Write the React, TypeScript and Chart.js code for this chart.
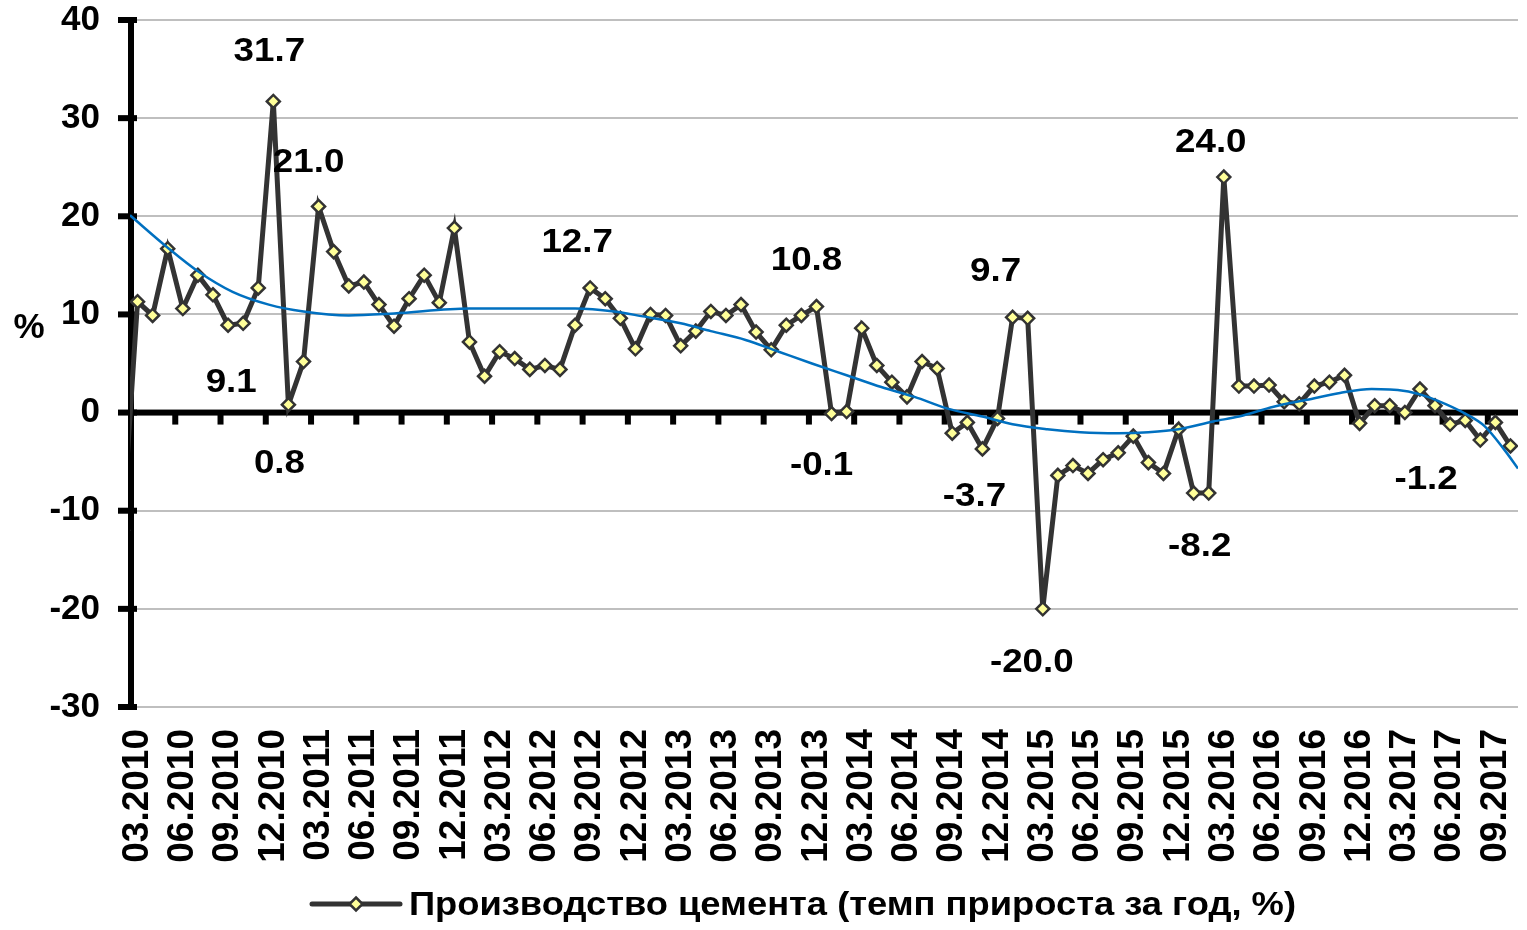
import React, { useEffect, useRef } from 'react';
import { Chart, registerables } from 'chart.js';

Chart.register(...registerables);

// Category tick labels (every third month, 03.2010 ... 09.2017)
const tickLabels = [
  '03.2010', '06.2010', '09.2010', '12.2010',
  '03.2011', '06.2011', '09.2011', '12.2011',
  '03.2012', '06.2012', '09.2012', '12.2012',
  '03.2013', '06.2013', '09.2013', '12.2013',
  '03.2014', '06.2014', '09.2014', '12.2014',
  '03.2015', '06.2015', '09.2015', '12.2015',
  '03.2016', '06.2016', '09.2016', '12.2016',
  '03.2017', '06.2017', '09.2017',
];

// Monthly values, 03.2010 (index 0) ... 10.2017 (index 91)
const cementValues = [
  11.3, 9.9, 16.7, 10.6, 14.0, 12.0, 8.9, 9.1, 12.7, 31.7,
  0.8, 5.2, 21.0, 16.4, 12.9, 13.3, 11.0, 8.8, 11.6, 14.0,
  11.2, 18.8, 7.2, 3.7, 6.2, 5.5, 4.4, 4.8, 4.4, 8.9,
  12.7, 11.6, 9.6, 6.5, 10.0, 9.9, 6.8, 8.3, 10.3, 9.9,
  11.0, 8.2, 6.4, 8.9, 9.9, 10.8, -0.1, 0.1, 8.6, 4.8,
  3.1, 1.6, 5.2, 4.5, -2.1, -1.0, -3.7, -0.6, 9.7, 9.6,
  -20.0, -6.4, -5.4, -6.2, -4.8, -4.1, -2.4, -5.1, -6.2, -1.7,
  -8.2, -8.2, 24.0, 2.7, 2.7, 2.8, 1.1, 0.9, 2.7, 3.1,
  3.8, -1.1, 0.7, 0.7, 0.0, 2.4, 0.7, -1.2, -0.8, -2.8,
  -1.0, -3.4,
];
// Value for 02.2010, lying just outside the visible axis range (clipped)
const priorValue = -12.0;

// Trend line (polynomial trend): month index -> value
const trendX = [-0.5, 2, 4, 6.3, 8.7, 11, 14, 17, 22, 29, 31.6, 33.5, 36, 38, 40.3, 42.5, 44.7, 47, 49.3, 51.5, 53.7, 56, 58, 60.3, 62.5, 65, 67, 69, 71.3, 73, 75.3, 77.5, 79.7, 81.8, 84, 85.1, 86.2, 88, 89.3, 90.6, 91.5];
const trendY = [20.1, 16.8, 14.4, 12.3, 11.0, 10.3, 9.9, 10.1, 10.6, 10.6, 10.3, 9.8, 9.1, 8.3, 7.4, 6.2, 5.0, 3.8, 2.6, 1.6, 0.4, -0.4, -1.2, -1.7, -2.0, -2.1, -2.0, -1.7, -0.9, -0.4, 0.6, 1.3, 2.0, 2.4, 2.2, 1.8, 1.2, -0.1, -1.4, -3.8, -5.7];

// Which points carry a data label
const labelIndex = [9, 12, 7, 10, 30, 45, 46, 58, 56, 60, 72, 71, 87];

const yTicks = [-30, -20, -10, 0, 10, 20, 30, 40];
const legendText = 'Производство цемента (темп прироста за год, %)';

// styling (label offsets in pixels relative to their point)
const labelOffsets: Record<number, [number, number]> = {
  9: [-4, -50], 12: [-10, -44], 7: [-12, 59], 10: [-9, 59], 30: [-13, -45],
  45: [-10, -46], 46: [-10, 52], 58: [-17, -46], 56: [-8, 48], 60: [-11, 54],
  72: [-13, -34], 71: [-9, 54], 87: [-24, 55],
};

const FONT = '"Liberation Sans", Arial, sans-serif';
const LINE_COLOR = '#333333';
const MARKER_FILL = '#FFFF99';
const TREND_COLOR = '#0070C0';

function drawDiamond(ctx: CanvasRenderingContext2D, x: number, y: number, r: number) {
  ctx.beginPath();
  ctx.moveTo(x, y - r);
  ctx.lineTo(x + r, y);
  ctx.lineTo(x, y + r);
  ctx.lineTo(x - r, y);
  ctx.closePath();
  ctx.fillStyle = MARKER_FILL;
  ctx.fill();
  ctx.lineWidth = 2.5;
  ctx.strokeStyle = LINE_COLOR;
  ctx.stroke();
}

// draw text horizontally stretched (the reference's glyphs are a bit wider)
function stretchedText(ctx: CanvasRenderingContext2D, text: string, x: number, y: number, sx: number) {
  ctx.save();
  ctx.translate(x, y);
  ctx.scale(sx, 1);
  ctx.fillText(text, 0, 0);
  ctx.restore();
}

const decorPlugin = {
  id: 'decor',
  beforeDatasetsDraw(chart: any) {
    const { ctx, chartArea, scales } = chart;
    const x = scales.x;
    const y = scales.y;
    ctx.save();
    ctx.fillStyle = '#000';
    const y0 = y.getPixelForValue(0);
    // x tick marks at category boundaries before each labelled month
    for (let k = 1; k < tickLabels.length; k++) {
      const px = x.getPixelForValue(k * 3 - 0.5);
      ctx.fillRect(px - 3, y0, 6, 12);
    }
    // zero line (horizontal axis)
    ctx.fillRect(chartArea.left, y0 - 3, chartArea.right - chartArea.left, 6);
    // vertical axis
    const ax = chartArea.left + 1;
    ctx.fillRect(ax - 3, chartArea.top - 3, 6, chartArea.bottom - chartArea.top + 3);
    for (const v of yTicks) {
      const py = y.getPixelForValue(v);
      ctx.fillRect(ax - 13, py - 3, 19, 6);
    }
    ctx.restore();
  },
  afterDatasetsDraw(chart: any) {
    const { ctx, scales } = chart;
    const x = scales.x;
    const y = scales.y;
    ctx.save();
    ctx.font = `bold 34px ${FONT}`;
    ctx.fillStyle = '#000';
    ctx.textAlign = 'center';
    ctx.textBaseline = 'middle';
    for (const i of labelIndex) {
      const v = cementValues[i];
      const [dx, dy] = labelOffsets[i];
      const px = x.getPixelForValue(i) + dx;
      const py = y.getPixelForValue(v) + dy;
      stretchedText(ctx, v.toFixed(1), px, py, 1.08);
    }
    ctx.restore();
  },
  afterDraw(chart: any) {
    const { ctx } = chart;
    ctx.save();
    // "%" axis title
    ctx.font = `bold 35px ${FONT}`;
    ctx.fillStyle = '#000';
    ctx.textAlign = 'center';
    ctx.textBaseline = 'middle';
    ctx.fillText('%', 29, 328);
    // legend
    const ly = 904;
    ctx.strokeStyle = LINE_COLOR;
    ctx.lineWidth = 5;
    ctx.lineCap = 'round';
    ctx.beginPath();
    ctx.moveTo(312, ly);
    ctx.lineTo(400, ly);
    ctx.stroke();
    drawDiamond(ctx, 356, ly, 6.5);
    ctx.font = `bold 33px ${FONT}`;
    ctx.fillStyle = '#000';
    ctx.textAlign = 'left';
    ctx.textBaseline = 'middle';
    const w = ctx.measureText(legendText).width;
    stretchedText(ctx, legendText, 409, ly + 2, 887 / w);
    ctx.restore();
  },
};

export default function App() {
  const canvasRef = useRef<HTMLCanvasElement | null>(null);

  useEffect(() => {
    document.body.style.margin = '0';
    const canvas = canvasRef.current;
    if (!canvas) return;

    const mainData = [{ x: -1, y: priorValue }].concat(
      cementValues.map((v, i) => ({ x: i, y: v }))
    );
    const trendData = trendX.map((xv, i) => ({ x: xv, y: trendY[i] }));
    const tickPositions = tickLabels.map((_, k) => k * 3);

    const chart = new Chart(canvas, {
      type: 'line',
      data: {
        datasets: [
          {
            label: 'trend',
            data: trendData,
            borderColor: TREND_COLOR,
            borderWidth: 2.5,
            pointRadius: 0,
            fill: false,
            cubicInterpolationMode: 'monotone',
          },
          {
            label: legendText,
            data: mainData,
            borderColor: LINE_COLOR,
            borderWidth: 5,
            tension: 0,
            pointStyle: 'rectRot',
            pointRadius: 6.5,
            pointBackgroundColor: MARKER_FILL,
            pointBorderColor: LINE_COLOR,
            pointBorderWidth: 2.5,
            fill: false,
          },
        ],
      },
      options: {
        responsive: false,
        animation: false,
        events: [],
        layout: { padding: { top: 20, right: 0, bottom: 0, left: 0 } },
        plugins: {
          legend: { display: false },
          tooltip: { enabled: false },
        },
        scales: {
          x: {
            type: 'linear',
            min: -0.5,
            max: 91.5,
            grid: { display: false, drawTicks: false },
            border: { display: false },
            afterBuildTicks(scale: any) {
              scale.ticks = tickPositions.map((v) => ({ value: v }));
            },
            afterFit(scale: any) {
              scale.height = 223;
              scale.paddingLeft = 0;
              scale.paddingRight = 0;
              scale.paddingTop = 0;
              scale.paddingBottom = 0;
            },
            ticks: {
              autoSkip: false,
              maxRotation: 90,
              minRotation: 90,
              padding: 22,
              color: '#000',
              font: { family: FONT, size: 37, weight: 'bold' },
              callback: (value: any) => tickLabels[Math.round(Number(value) / 3)] ?? '',
            },
          },
          y: {
            type: 'linear',
            min: -30,
            max: 40,
            afterBuildTicks(scale: any) {
              scale.ticks = yTicks.map((v) => ({ value: v }));
            },
            afterFit(scale: any) {
              scale.width = 130;
              scale.paddingTop = 0;
              scale.paddingBottom = 0;
            },
            grid: {
              drawTicks: false,
              lineWidth: 2,
              color: (c: any) => (c.tick && c.tick.value === 0 ? 'rgba(0,0,0,0)' : '#BFBFBF'),
            },
            border: { display: false },
            ticks: {
              padding: 30,
              color: '#000',
              font: { family: FONT, size: 35, weight: 'bold' },
            },
          },
        },
      },
      plugins: [decorPlugin],
    } as any);

    return () => {
      chart.destroy();
    };
  }, []);

  return (
    <div style={{ position: 'fixed', left: 0, top: 0, width: 1527, height: 930, background: '#fff' }}>
      <canvas ref={canvasRef} width={1527} height={930} style={{ display: 'block' }} />
    </div>
  );
}
